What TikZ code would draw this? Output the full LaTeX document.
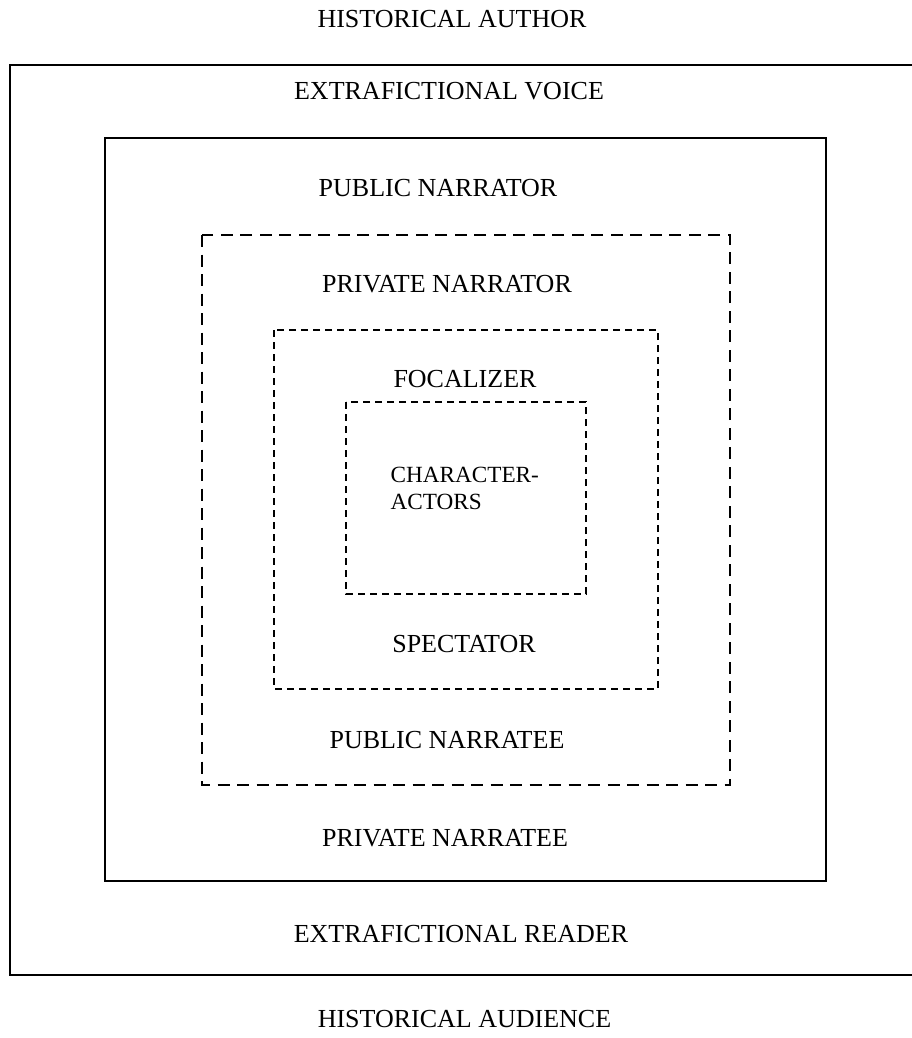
\documentclass[tikz,border=0pt]{standalone}
\usepackage{fontspec}
\setmainfont{Liberation Serif}
\begin{document}
\begin{tikzpicture}[x=1pt,y=-1pt,
  lbl/.style={anchor=base,inner sep=0pt,font=\fontsize{26}{30}\selectfont},
  solidbox/.style={draw=black,line width=1.8pt},
  longdash/.style={draw=black,line width=1.8pt,dash pattern=on 12pt off 7.5pt},
  shortdash/.style={draw=black,line width=1.7pt,dash pattern=on 7pt off 5pt}]
\useasboundingbox (0,0) rectangle (912,1038);
% boxes
\draw[solidbox] (914,65) -- (10,65) -- (10,975) -- (914,975);
\draw[solidbox] (105,138) rectangle (826,881);
\draw[longdash] (202,235) rectangle (730,785);
\draw[shortdash] (274,330) rectangle (658,689);
\draw[shortdash] (346,402) rectangle (586,594);
% labels
\node[lbl] (ha) at (452,28) {HISTORICAL AUTHOR};
\node[lbl] (ev) at (449,100) {EXTRAFICTIONAL VOICE};
\node[lbl] (pn) at (438,196) {PUBLIC NARRATOR};
\node[lbl] (prn) at (447,292) {PRIVATE NARRATOR};
\node[lbl] (foc) at (465,387) {FOCALIZER};
\node[anchor=base west,inner sep=0pt,align=left,font=\fontsize{23.2}{26.5}\selectfont] (ca) at (390.5,509) {CHARACTER-\\ACTORS};
\node[lbl] (spec) at (464,652) {SPECTATOR};
\node[lbl] (pnee) at (447,748) {PUBLIC NARRATEE};
\node[lbl] (prnee) at (445,846) {PRIVATE NARRATEE};
\node[lbl] (er) at (461,942) {EXTRAFICTIONAL READER};
\node[lbl] (haud) at (464.5,1027) {HISTORICAL AUDIENCE};
\end{tikzpicture}
\end{document}
